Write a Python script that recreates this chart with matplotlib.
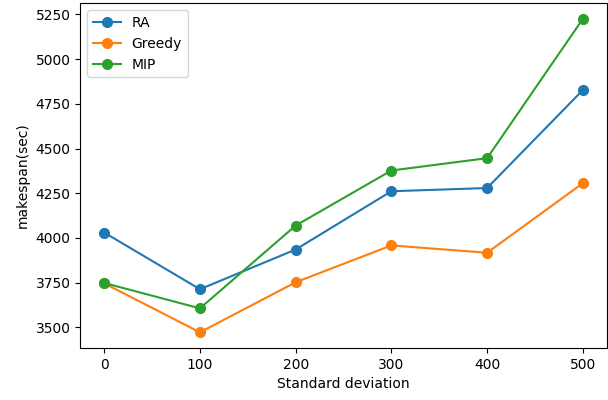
import numpy as np
import matplotlib
matplotlib.use("Agg")
import matplotlib.pyplot as plt

std_dev = [0, 100, 200, 300, 400, 500]
ra = [4030, 3713, 3935, 4261, 4279, 4827]
greedy = [3746, 3472, 3752, 3958, 3917, 4306]
mip = [3748, 3606, 4069, 4377, 4446, 5225]

fig = plt.figure(figsize=(6.08, 4.0), dpi=100)
ax = fig.add_axes([0.132, 0.13, 0.866, 0.862])

ax.plot(std_dev, ra, marker="o", markersize=7, label="RA")
ax.plot(std_dev, greedy, marker="o", markersize=7, label="Greedy")
ax.plot(std_dev, mip, marker="o", markersize=7, label="MIP")

ax.set_xticks(std_dev)
ax.set_yticks(np.arange(3500, 5251, 250))
ax.set_xlabel("Standard deviation")
ax.set_ylabel("makespan(sec)")
ax.legend(loc="upper left")

fig.savefig("out.png", dpi=100)
